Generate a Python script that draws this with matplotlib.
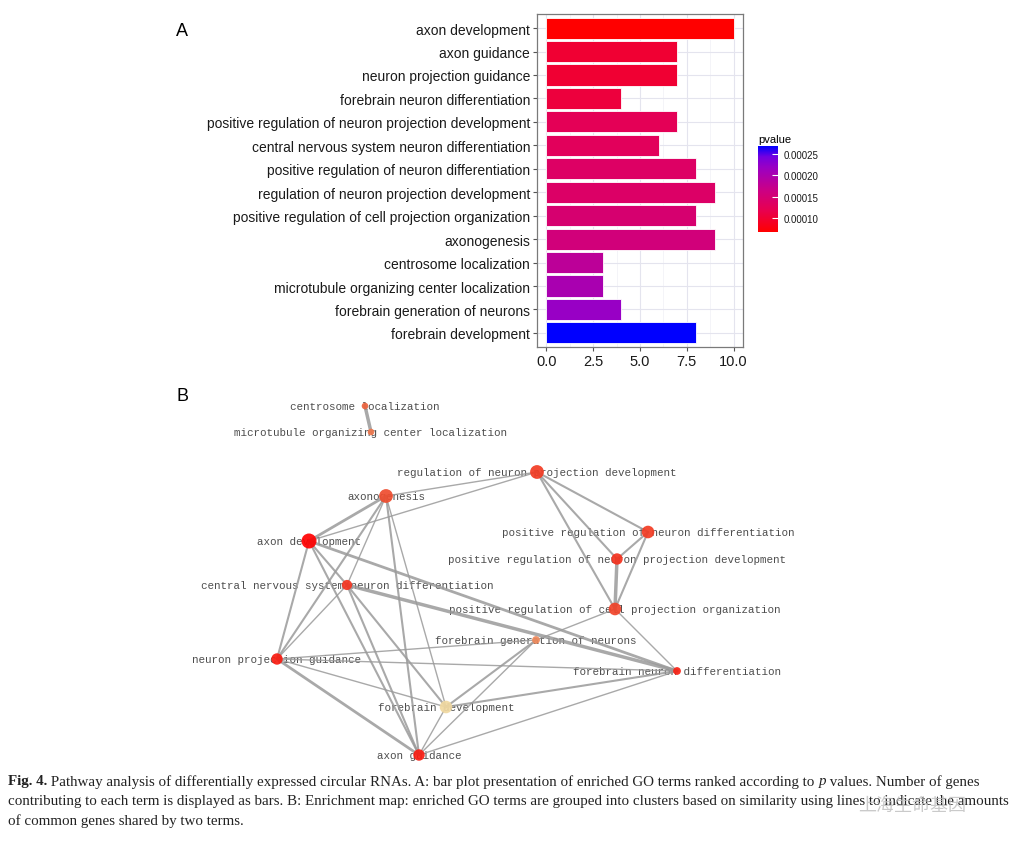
import numpy as np
import matplotlib
matplotlib.use("Agg")
import matplotlib.pyplot as plt
from matplotlib.colors import LinearSegmentedColormap, Normalize
from matplotlib.cm import ScalarMappable

# GO terms, top to bottom as in panel A
terms = ["axon development", "axon guidance", "neuron projection guidance",
         "forebrain neuron differentiation",
         "positive regulation of neuron projection development",
         "central nervous system neuron differentiation",
         "positive regulation of neuron differentiation",
         "regulation of neuron projection development",
         "positive regulation of cell projection organization",
         "axonogenesis", "centrosome localization",
         "microtubule organizing center localization",
         "forebrain generation of neurons", "forebrain development"]
gene_counts = [10, 7, 7, 4, 7, 6, 8, 9, 8, 9, 3, 3, 4, 8]
pvalues = [0.000067, 0.000100, 0.000100, 0.000106, 0.000124, 0.000128, 0.000136,
           0.000138, 0.000146, 0.000156, 0.000182, 0.000202, 0.000220, 0.000269]
count_ticks = [0.0, 2.5, 5.0, 7.5, 10.0]
pvalue_ticks = [0.00010, 0.00015, 0.00020, 0.00025]

# enrichment map layout, same order as terms
node_x = [309, 419, 277, 677, 617, 347, 648, 537, 615, 386, 365, 371, 536, 446]
node_y = [542, 756, 660, 672, 560, 586, 533, 473, 610, 497, 407, 433, 641, 708]
edges = [
    ("centrosome localization", "microtubule organizing center localization", 2.5),
    ("axonogenesis", "regulation of neuron projection development", 1.0),
    ("axon development", "regulation of neuron projection development", 1.0),
    ("axon development", "axonogenesis", 2.0),
    ("axonogenesis", "central nervous system neuron differentiation", 1.0),
    ("axonogenesis", "neuron projection guidance", 1.5),
    ("axonogenesis", "axon guidance", 1.5),
    ("axonogenesis", "forebrain development", 1.0),
    ("axon development", "central nervous system neuron differentiation", 1.5),
    ("axon development", "neuron projection guidance", 1.5),
    ("axon development", "axon guidance", 1.5),
    ("axon development", "forebrain neuron differentiation", 2.0),
    ("central nervous system neuron differentiation", "forebrain neuron differentiation", 2.5),
    ("central nervous system neuron differentiation", "neuron projection guidance", 1.0),
    ("central nervous system neuron differentiation", "axon guidance", 1.5),
    ("central nervous system neuron differentiation", "forebrain development", 1.5),
    ("regulation of neuron projection development", "positive regulation of neuron differentiation", 1.5),
    ("regulation of neuron projection development", "positive regulation of neuron projection development", 1.5),
    ("regulation of neuron projection development", "positive regulation of cell projection organization", 1.5),
    ("positive regulation of neuron differentiation", "positive regulation of neuron projection development", 1.5),
    ("positive regulation of neuron differentiation", "positive regulation of cell projection organization", 1.5),
    ("positive regulation of neuron projection development", "positive regulation of cell projection organization", 2.5),
    ("positive regulation of cell projection organization", "forebrain generation of neurons", 1.0),
    ("positive regulation of cell projection organization", "forebrain neuron differentiation", 1.0),
    ("forebrain generation of neurons", "neuron projection guidance", 1.0),
    ("forebrain generation of neurons", "forebrain development", 1.5),
    ("forebrain generation of neurons", "axon guidance", 1.0),
    ("neuron projection guidance", "forebrain neuron differentiation", 1.0),
    ("neuron projection guidance", "axon guidance", 2.0),
    ("neuron projection guidance", "forebrain development", 1.0),
    ("forebrain development", "forebrain neuron differentiation", 1.5),
    ("axon guidance", "forebrain neuron differentiation", 1.0),
    ("axon guidance", "forebrain development", 1.0),
]

caption = [
    [("Fig. 4.", "bold", "normal"),
     (" Pathway analysis of differentially expressed circular RNAs. A: bar plot presentation of enriched GO terms ranked according to ", "normal", "normal"),
     ("p", "normal", "italic"),
     (" values. Number of genes", "normal", "normal")],
    [("contributing to each term is displayed as bars. B: Enrichment map: enriched GO terms are grouped into clusters based on similarity using lines to indicate the amounts", "normal", "normal")],
    [("of common genes shared by two terms.", "normal", "normal")],
]

W, H = 1024, 845
fig = plt.figure(figsize=(W / 100, H / 100), dpi=100)

# ---- panel A: bar plot ----
bar_cmap = LinearSegmentedColormap.from_list(
    "pv", [(0, "#FF0000"), (0.25, "#E8004F"), (0.5, "#C90088"),
           (0.75, "#9A00C3"), (0.875, "#7300E0"), (1, "#0000FF")])
norm = Normalize(vmin=min(pvalues), vmax=max(pvalues))

ax = fig.add_axes([537 / W, 1 - 348 / H, 206 / W, 333 / H])
ypos = np.arange(len(terms))[::-1] + 1
ax.barh(ypos, gene_counts, height=0.9, color=bar_cmap(norm(pvalues)),
        edgecolor="white", linewidth=0.6, zorder=3)
ax.set_xlim(-0.5, 10.5)
ax.set_ylim(0.4, len(terms) + 0.6)
ax.set_yticks(ypos)
ax.set_yticklabels(terms, fontsize=10, family="Liberation Sans", color="#1a1a1a")
ax.set_xticks(count_ticks)
ax.set_xticklabels([f"{t:.1f}" for t in count_ticks], fontsize=10.5,
                   family="Liberation Sans", color="#1a1a1a")
ax.set_xticks([1.25, 3.75, 6.25, 8.75], minor=True)
ax.grid(which="major", color="#E4E4EE", linewidth=0.8, zorder=0)
ax.grid(which="minor", axis="x", color="#F0F0F5", linewidth=0.5, zorder=0)
ax.tick_params(axis="both", length=3, color="#555555", pad=2)
ax.tick_params(which="minor", length=0)
for s in ax.spines.values():
    s.set_color("#7a7a7a")
    s.set_linewidth(0.9)

# colour bar
cax = fig.add_axes([758 / W, 1 - 233 / H, 20 / W, 86 / H])
cb = fig.colorbar(ScalarMappable(norm=norm, cmap=bar_cmap), cax=cax, ticks=pvalue_ticks)
cb.outline.set_visible(False)
cb.ax.set_yticklabels([f"{t:.5f}" for t in pvalue_ticks], fontsize=7,
                      family="Liberation Sans", color="#1a1a1a")
cb.ax.tick_params(length=4, width=0.8, color="white", direction="in", pad=4)
cax.set_title("pvalue", fontsize=8, family="Liberation Sans", loc="left", pad=3)

fig.text(176 / W, 1 - 32 / H, "A", fontsize=13, family="Liberation Sans", va="center")
fig.text(176 / W, 1 - 397 / H, "B", fontsize=13, family="Liberation Sans", va="center")

# ---- panel B: enrichment map ----
axb = fig.add_axes([0, 0, 1, 1], zorder=-1)
axb.set_xlim(0, W)
axb.set_ylim(H, 0)
axb.axis("off")
idx = {t: i for i, t in enumerate(terms)}
for a, b, w in edges:
    i, j = idx[a], idx[b]
    axb.plot([node_x[i], node_x[j]], [node_y[i], node_y[j]], color="#9a9a9a",
             linewidth=w, alpha=0.85, solid_capstyle="round", zorder=2)
for i, t in enumerate(terms):
    axb.text(node_x[i], node_y[i], t, fontsize=7.8, family="Liberation Mono",
             color="#4d4d4d", ha="center", va="center", zorder=1)
node_cmap = LinearSegmentedColormap.from_list(
    "nodes", [(0, "#FF0000"), (0.5, "#EC5634"), (0.8, "#EE9060"), (1, "#F0D8A0")])
radius = 1.5 + 0.6 * np.array(gene_counts)
axb.scatter(node_x, node_y, s=(2 * radius * 0.72) ** 2,
            c=node_cmap(norm(pvalues)), edgecolors="none", alpha=0.92, zorder=3)

# ---- caption ----
renderer = fig.canvas.get_renderer()
line_y = [782, 802, 821]
for pieces, y in zip(caption, line_y):
    x = 8
    for s, weight, style in pieces:
        t = fig.text(x / W, 1 - y / H, s, fontsize=10.8, family="Liberation Serif",
                     weight=weight, style=style, va="center", color="#222222")
        x += t.get_window_extent(renderer).width

fig.text(858 / W, 1 - 806 / H, "上海生命基因", fontsize=13, family="Noto Sans CJK SC",
         color="#bdbdbd", alpha=0.8, va="center")

fig.savefig("out.png", dpi=100)
